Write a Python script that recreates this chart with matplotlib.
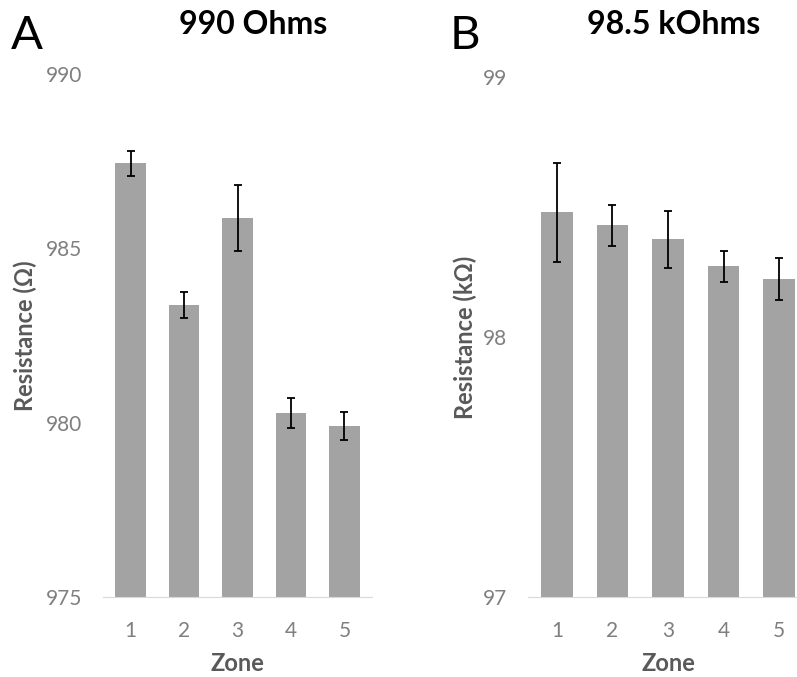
import matplotlib.pyplot as plt
import numpy as np

# Data
zones = [1, 2, 3, 4, 5]
res_a = [987.43, 983.37, 985.87, 980.28, 979.91]   # Ohms
err_a = [0.36, 0.38, 0.95, 0.43, 0.41]
res_b = [98.48, 98.43, 98.376, 98.273, 98.223]    # kOhms
err_b = [0.19, 0.08, 0.11, 0.06, 0.08]

bar_color = '#a3a3a3'
tick_color = '#7f7f7f'
label_color = '#595959'
font = ['Lato', 'DejaVu Sans']
plt.rcParams['font.family'] = font

fig = plt.figure(figsize=(7.97, 6.77), dpi=100)

def panel(rect, vals, errs, ylim, yticks, ylabel, ylpad):
    ax = fig.add_axes(rect)
    x = np.array(zones)
    ax.bar(x, vals, width=0.57, color=bar_color, zorder=2)
    ax.errorbar(x, vals, yerr=errs, fmt='none', ecolor='black',
                elinewidth=1.3, capsize=3, capthick=1.3, zorder=3)
    ax.set_xlim(0.48, 5.52)
    ax.set_ylim(*ylim)
    ax.set_yticks(yticks)
    ax.set_xticks(x)
    for s in ['top', 'right', 'left']:
        ax.spines[s].set_visible(False)
    ax.spines['bottom'].set_color('#d9d9d9')
    ax.spines['bottom'].set_linestyle((0, (2, 1)))
    ax.tick_params(axis='both', length=0, labelsize=15, labelcolor=tick_color)
    ax.tick_params(axis='y', pad=15)
    ax.tick_params(axis='x', pad=17)
    ax.set_xlabel('Zone', fontsize=17, fontweight='bold', color=label_color, labelpad=8)
    ax.set_ylabel(ylabel, fontsize=17, fontweight='bold', color=label_color, labelpad=ylpad)
    return ax

panel([0.129, 0.118, 0.338, 0.773], res_a, err_a, (975, 990), [975, 980, 985, 990],
      'Resistance (Ω)', 6)
panel([0.6625, 0.118, 0.3513, 0.768], res_b, err_b, (97, 99), [97, 98, 99],
      'Resistance (kΩ)', 4)

fig.text(253 / 797, 1 - 25 / 677, '990 Ohms', fontsize=23, fontweight='bold',
         ha='center', va='center')
fig.text(674 / 797, 1 - 25 / 677, '98.5 kOhms', fontsize=23, fontweight='bold',
         ha='center', va='center')
fig.text(27 / 797, 1 - 36 / 677, 'A', fontsize=34, ha='center', va='center')
fig.text(465 / 797, 1 - 36 / 677, 'B', fontsize=34, ha='center', va='center')

fig.savefig('out.png', dpi=100)
